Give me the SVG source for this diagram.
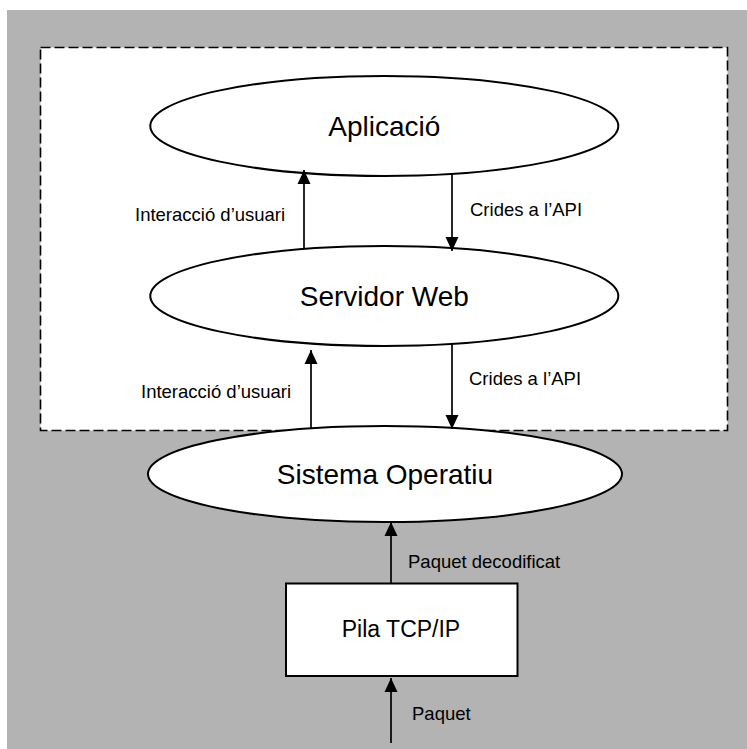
<svg xmlns="http://www.w3.org/2000/svg" width="747" height="749" viewBox="0 0 747 749">
  <style>
    .node { fill: #ffffff; stroke: #000000; stroke-width: 2; }
    .big { font-family: "Liberation Sans", Arial, sans-serif; font-size: 28px; fill: #000; text-anchor: middle; }
    .mid { font-family: "Liberation Sans", Arial, sans-serif; font-size: 23px; fill: #000; text-anchor: middle; }
    .small { font-family: "Liberation Sans", Arial, sans-serif; font-size: 18.5px; fill: #000; }
    .conn line { stroke: #000; stroke-width: 1.7; marker-end: url(#arrow); }
  </style>
  <defs>
    <marker id="arrow" markerUnits="userSpaceOnUse" markerWidth="14" markerHeight="14" refX="14" refY="7" orient="auto">
      <path d="M0,0.5 L14,7 L0,13.5 z" fill="#000"/>
    </marker>
  </defs>
  <rect x="0" y="0" width="747" height="749" fill="#ffffff"/>
  <rect x="7" y="10" width="740" height="739" fill="#b3b3b3"/>
  <rect id="boundary" x="40.5" y="47.5" width="687" height="383" fill="#ffffff" stroke="#000" stroke-width="1.6" stroke-dasharray="10,4"/>

  <g id="aplicacio">
    <ellipse class="node" cx="384.3" cy="126" rx="234" ry="50"/>
    <text class="big" x="384.3" y="136">Aplicació</text>
  </g>
  <g id="servidor-web">
    <ellipse class="node" cx="384.3" cy="296" rx="234" ry="50"/>
    <text class="big" x="384.3" y="306">Servidor Web</text>
  </g>
  <g id="sistema-operatiu">
    <ellipse class="node" cx="385" cy="474" rx="237" ry="48"/>
    <text class="big" x="385" y="484">Sistema Operatiu</text>
  </g>
  <g id="pila-tcpip">
    <rect class="node" x="286" y="583.5" width="231.5" height="92.5" stroke-width="1.7"/>
    <text class="mid" x="401" y="637">Pila TCP/IP</text>
  </g>

  <g id="connectors" class="conn">
    <line x1="304" y1="249" x2="304" y2="170"/>
    <line x1="452" y1="174" x2="452" y2="251"/>
    <line x1="311" y1="428" x2="311" y2="350"/>
    <line x1="452" y1="344" x2="452" y2="429"/>
    <line x1="391" y1="583" x2="391" y2="522"/>
    <line x1="391" y1="743" x2="391" y2="678"/>
  </g>

  <g id="labels">
    <text class="small" x="135" y="221">Interacció d’usuari</text>
    <text class="small" x="470" y="216">Crides a l’API</text>
    <text class="small" x="141" y="398">Interacció d’usuari</text>
    <text class="small" x="469" y="385">Crides a l’API</text>
    <text class="small" x="408" y="568">Paquet decodificat</text>
    <text class="small" x="412" y="720">Paquet</text>
  </g>
</svg>
